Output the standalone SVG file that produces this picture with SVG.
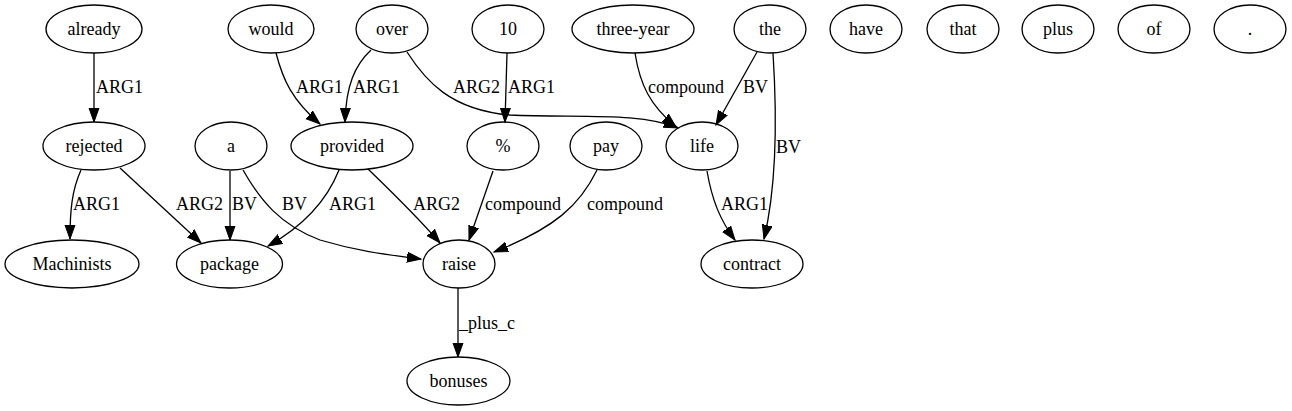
<svg xmlns="http://www.w3.org/2000/svg" width="1292" height="411" viewBox="0 0 1292 411">
<defs>
<marker id="ah" markerUnits="userSpaceOnUse" markerWidth="16" markerHeight="12" refX="14" refY="5.5" orient="auto">
<path d="M0,0.5 L14,5.5 L0,10.5 z" fill="#000" stroke="#000" stroke-width="1"/>
</marker>
</defs>
<rect width="1292" height="411" fill="#fff"/>
<g id="connectors" fill="none" stroke="#000" stroke-width="1.3" marker-end="url(#ah)">
<path d="M94,53 L94,122"/>
<path d="M276,53 C283,80 292,100 320,124"/>
<path d="M371,50 C355,65 346,85 345,122"/>
<path d="M407,52 C425,80 450,110 510,115 C580,118 640,112 678,128"/>
<path d="M507,53 L505,122"/>
<path d="M635,53 C640,85 650,105 676,127"/>
<path d="M757,52 L716,125"/>
<path d="M773,53 C776,100 778,180 764,239"/>
<path d="M81,170 C72,190 70,210 70,239"/>
<path d="M120,168 L201,243"/>
<path d="M230,171 L230,240"/>
<path d="M243,170 C260,200 280,225 320,240 C360,252 390,255 421,259"/>
<path d="M339,170 C325,205 300,228 268,246"/>
<path d="M368,169 C395,195 420,220 440,243"/>
<path d="M493,171 L469,240"/>
<path d="M597,170 C580,205 555,228 494,252"/>
<path d="M707,171 C712,200 720,220 735,240"/>
<path d="M458,288 L458,357"/>
</g>
<g id="edge-labels" font-family="Liberation Serif, Times New Roman, serif" font-size="18" fill="#000">
<text x="96" y="93">ARG1</text>
<text x="296" y="93">ARG1</text>
<text x="353" y="93">ARG1</text>
<text x="453" y="93">ARG2</text>
<text x="508" y="93">ARG1</text>
<text x="648" y="93">compound</text>
<text x="743" y="93">BV</text>
<text x="776" y="153">BV</text>
<text x="73" y="210">ARG1</text>
<text x="176" y="210">ARG2</text>
<text x="232" y="210">BV</text>
<text x="282" y="210">BV</text>
<text x="329" y="210">ARG1</text>
<text x="413" y="210">ARG2</text>
<text x="485" y="210">compound</text>
<text x="587" y="210">compound</text>
<text x="721" y="210">ARG1</text>
<text x="459" y="329">_plus_c</text>
</g>
<g id="nodes" font-family="Liberation Serif, Times New Roman, serif" font-size="18" text-anchor="middle" stroke-width="1.3">
<g id="n_already"><ellipse cx="94" cy="29" rx="48" ry="24" fill="none" stroke="#000"/><text x="94" y="35">already</text></g>
<g id="n_would"><ellipse cx="271" cy="29" rx="43" ry="24" fill="none" stroke="#000"/><text x="271" y="35">would</text></g>
<g id="n_over"><ellipse cx="392" cy="29" rx="36" ry="24" fill="none" stroke="#000"/><text x="392" y="35">over</text></g>
<g id="n_10"><ellipse cx="508" cy="29" rx="36" ry="24" fill="none" stroke="#000"/><text x="508" y="35">10</text></g>
<g id="n_three-year"><ellipse cx="633" cy="29" rx="61" ry="24" fill="none" stroke="#000"/><text x="633" y="35">three-year</text></g>
<g id="n_the"><ellipse cx="770" cy="29" rx="36" ry="24" fill="none" stroke="#000"/><text x="770" y="35">the</text></g>
<g id="n_have"><ellipse cx="866" cy="29" rx="36" ry="24" fill="none" stroke="#000"/><text x="866" y="35">have</text></g>
<g id="n_that"><ellipse cx="963" cy="29" rx="36" ry="24" fill="none" stroke="#000"/><text x="963" y="35">that</text></g>
<g id="n_plus"><ellipse cx="1058" cy="29" rx="36" ry="24" fill="none" stroke="#000"/><text x="1058" y="35">plus</text></g>
<g id="n_of"><ellipse cx="1154" cy="29" rx="36" ry="24" fill="none" stroke="#000"/><text x="1154" y="35">of</text></g>
<g id="n_dot"><ellipse cx="1250" cy="29" rx="36" ry="24" fill="none" stroke="#000"/><text x="1250" y="35">.</text></g>
<g id="n_rejected"><ellipse cx="94" cy="146" rx="51" ry="24" fill="none" stroke="#000"/><text x="94" y="152">rejected</text></g>
<g id="n_a"><ellipse cx="231" cy="146" rx="36" ry="24" fill="none" stroke="#000"/><text x="231" y="152">a</text></g>
<g id="n_provided"><ellipse cx="352" cy="146" rx="61" ry="24" fill="none" stroke="#000"/><text x="352" y="152">provided</text></g>
<g id="n_pct"><ellipse cx="503" cy="146" rx="36" ry="24" fill="none" stroke="#000"/><text x="503" y="152">%</text></g>
<g id="n_pay"><ellipse cx="606" cy="146" rx="36" ry="24" fill="none" stroke="#000"/><text x="606" y="152">pay</text></g>
<g id="n_life"><ellipse cx="702" cy="146" rx="36" ry="24" fill="none" stroke="#000"/><text x="702" y="152">life</text></g>
<g id="n_Machinists"><ellipse cx="72" cy="264" rx="67" ry="24" fill="none" stroke="#000"/><text x="72" y="270">Machinists</text></g>
<g id="n_package"><ellipse cx="229.5" cy="264" rx="53" ry="24" fill="none" stroke="#000"/><text x="229.5" y="270">package</text></g>
<g id="n_raise"><ellipse cx="459" cy="264" rx="36" ry="24" fill="none" stroke="#000"/><text x="459" y="270">raise</text></g>
<g id="n_contract"><ellipse cx="752" cy="264" rx="51" ry="24" fill="none" stroke="#000"/><text x="752" y="270">contract</text></g>
<g id="n_bonuses"><ellipse cx="458.5" cy="381" rx="51.5" ry="24" fill="none" stroke="#000"/><text x="458.5" y="387">bonuses</text></g>
</g>
</svg>
